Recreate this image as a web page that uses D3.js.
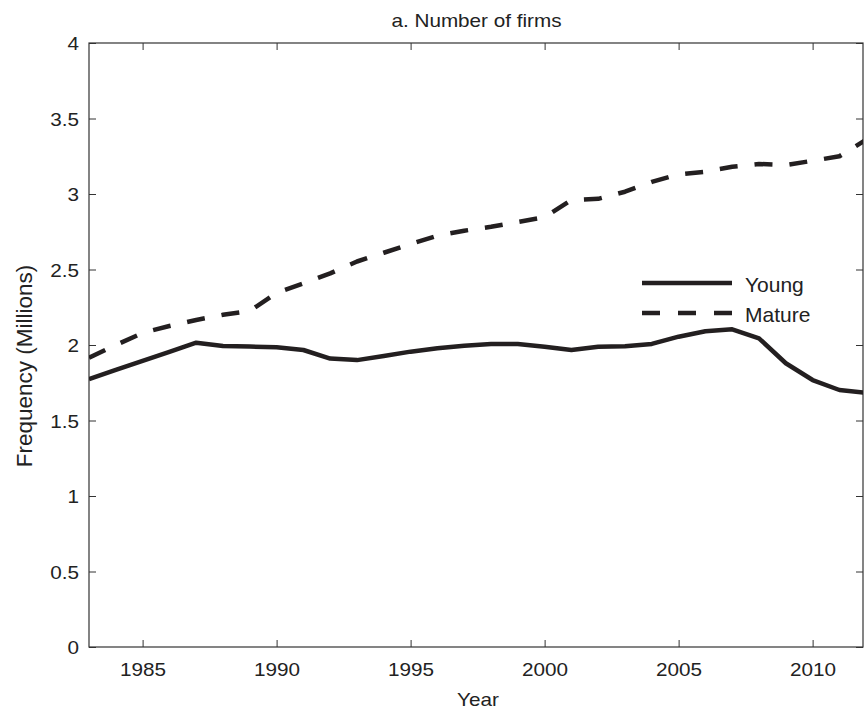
<!DOCTYPE html>
<html>
<head>
<meta charset="utf-8">
<script src="https://cdn.jsdelivr.net/npm/d3@7"></script>
<style>
  html, body { margin: 0; padding: 0; background: #fff; }
  text { font-family: "Liberation Sans", Arial, Helvetica, sans-serif; fill: #222; }
</style>
</head>
<body>
<svg id="chart" width="867" height="713"></svg>
<script>
const years = d3.range(1983, 2013);
const young = [1.774, 1.835, 1.895, 1.955, 2.015, 1.993, 1.990, 1.985, 1.967, 1.910,
               1.900, 1.927, 1.956, 1.978, 1.995, 2.007, 2.007, 1.989, 1.967, 1.989,
               1.991, 2.007, 2.055, 2.091, 2.104, 2.044, 1.879, 1.768, 1.702, 1.684];
const mature = [1.915, 2.000, 2.080, 2.126, 2.166, 2.200, 2.225, 2.346, 2.408, 2.474,
                2.553, 2.611, 2.669, 2.724, 2.757, 2.783, 2.815, 2.846, 2.960, 2.968,
                3.015, 3.080, 3.130, 3.148, 3.180, 3.199, 3.192, 3.220, 3.250, 3.360];
const xTicks = [1985, 1990, 1995, 2000, 2005, 2010];
const yTicks = [0, 0.5, 1, 1.5, 2, 2.5, 3, 3.5, 4];
const seriesNames = ["Young", "Mature"];
const titleText = "a. Number of firms";
const xLabel = "Year";
const yLabel = "Frequency (Millions)";

const L = 89, T = 43, R = 863, B = 647;
const SX = 1.15;
const ink = "#231f20";
const svg = d3.select("#chart");

const x = d3.scaleLinear().domain([1983, 2011.88]).range([L, R]);
const y = d3.scaleLinear().domain([0, 4]).range([B, T]);

svg.append("defs").append("clipPath").attr("id", "clip")
  .append("rect").attr("x", L).attr("y", T).attr("width", R - L).attr("height", B - T);

// axes with inward ticks
const tickLen = 7;
const axB = svg.append("g").attr("transform", `translate(0,${B})`)
  .call(d3.axisBottom(x).tickValues(xTicks).tickFormat(d3.format("d")).tickSize(-tickLen).tickSizeOuter(0));
const axT = svg.append("g").attr("transform", `translate(0,${T})`)
  .call(d3.axisTop(x).tickValues(xTicks).tickFormat("").tickSize(-tickLen).tickSizeOuter(0));
const axL = svg.append("g").attr("transform", `translate(${L},0)`)
  .call(d3.axisLeft(y).tickValues(yTicks).tickFormat(d3.format("")).tickSize(-tickLen).tickSizeOuter(0));
const axR = svg.append("g").attr("transform", `translate(${R},0)`)
  .call(d3.axisRight(y).tickValues(yTicks).tickFormat("").tickSize(-tickLen).tickSizeOuter(0));

[axB, axT, axL, axR].forEach(a => {
  a.select(".domain").remove();
  a.selectAll(".tick line").attr("stroke", "#333").attr("stroke-width", 1);
});
axB.selectAll(".tick text")
  .attr("font-size", 18).attr("fill", "#222").attr("y", 0).attr("dy", 0)
  .attr("transform", `translate(0,29) scale(${SX},1)`);
axL.selectAll(".tick text")
  .attr("font-size", 18).attr("fill", "#222").attr("x", 0).attr("dy", 0)
  .attr("text-anchor", "end")
  .attr("transform", `translate(-10,6.5) scale(${SX},1)`);

// box
svg.append("rect").attr("x", L).attr("y", T).attr("width", R - L).attr("height", B - T)
  .attr("fill", "none").attr("stroke", "#333").attr("stroke-width", 1.2);

// lines
const series = [
  {name: seriesNames[0], values: young, dash: null},
  {name: seriesNames[1], values: mature, dash: "18,17"}
];
const line = d3.line().x((d, i) => x(years[i])).y(d => y(d));
const g = svg.append("g").attr("clip-path", "url(#clip)");
series.forEach(s => {
  g.append("path").datum(s.values)
    .attr("d", line)
    .attr("fill", "none")
    .attr("stroke", ink)
    .attr("stroke-width", 4.5)
    .attr("stroke-linejoin", "round")
    .attr("stroke-dasharray", s.dash);
});

// legend
const leg = svg.append("g");
const legY = [283, 313];
series.forEach((s, i) => {
  leg.append("line").attr("x1", 642).attr("x2", 732).attr("y1", legY[i]).attr("y2", legY[i])
    .attr("stroke", ink).attr("stroke-width", 4.5).attr("stroke-dasharray", s.dash ? "18,18" : null);
  leg.append("text").attr("x", 745).attr("y", legY[i] + 8.5).attr("font-size", 21).text(s.name);
});

// title & labels
svg.append("text").attr("transform", `translate(${(L + R) / 2 + 0.5},27) scale(${SX},1)`)
  .attr("text-anchor", "middle").attr("font-size", 18).text(titleText);
svg.append("text").attr("transform", `translate(32,366) rotate(-90)`)
  .attr("text-anchor", "middle").attr("font-size", 22.5).text(yLabel);
svg.append("text").attr("transform", `translate(478,706) scale(${SX},1)`)
  .attr("text-anchor", "middle").attr("font-size", 18).text(xLabel);
</script>
</body>
</html>
